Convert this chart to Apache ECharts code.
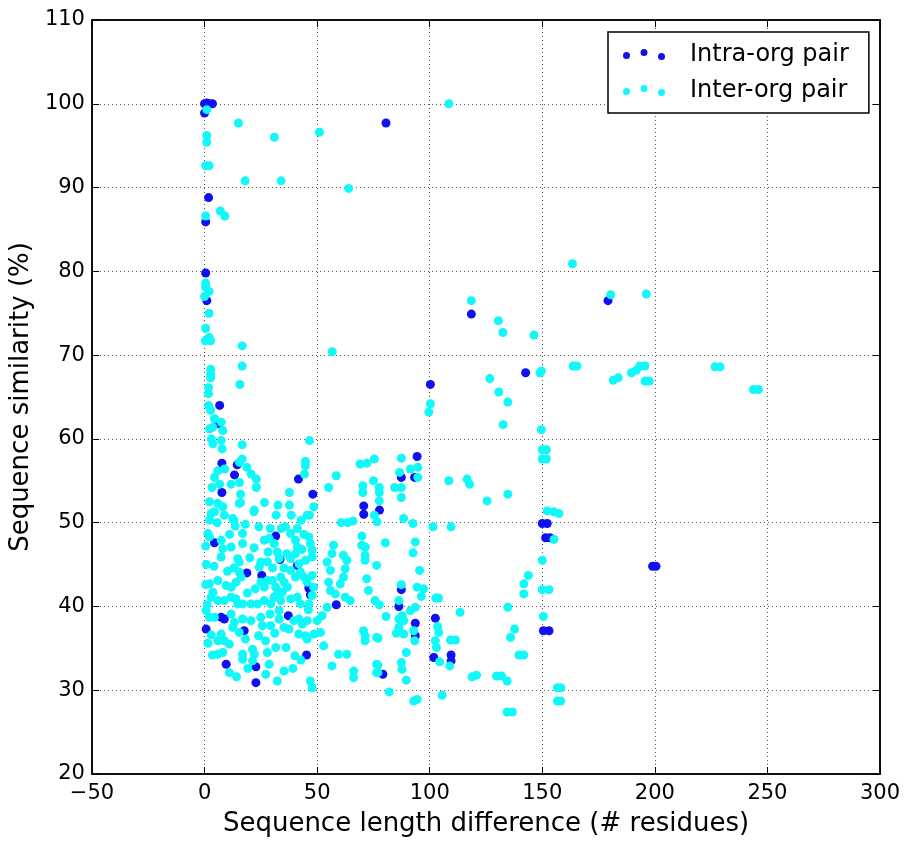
<!DOCTYPE html>
<html>
<head>
<meta charset="utf-8">
<script src="https://cdn.jsdelivr.net/npm/echarts@6/dist/echarts.min.js"></script>
<style>
html,body{margin:0;padding:0;background:#fff;}
#chart{width:905px;height:843px;}
</style>
</head>
<body>
<div id="chart"></div>
<script>
// Axis ticks
const xTicks = [-50, 0, 50, 100, 150, 200, 250, 300];
const yTicks = [20, 30, 40, 50, 60, 70, 80, 90, 100, 110];
const seriesNames = ['Intra-org pair', 'Inter-org pair'];

// Intra-organism pairs: [length difference, similarity %]
const intraPairs = [
  [0,100],[1,100.1],[2.2,100],[3.5,100],[0,98.9],[1.8,88.8],[0.5,85.9],[0.5,79.8],[1,76.5],
  [80.6,97.7],[118.5,74.9],[179.2,76.5],
  [142.6,67.9],[100.3,66.5],[94.4,57.9],[87.4,55.4],[93.3,55.4],
  [6.7,64.0],[6.2,61.8],[7.7,57.1],[14.5,56.9],[13.3,55.7],[7.7,53.6],[41.7,55.2],[48.1,53.4],
  [70.7,52.0],[70.7,51.0],[77.7,51.5],
  [4.4,47.6],[31.6,48.4],[33.5,45.6],[41.2,44.9],[18.8,44.0],[25.4,43.7],[46.3,42.2],[47.0,41.4],
  [58.5,40.2],[0.7,37.3],[7.4,38.7],[8.8,38.5],[17.6,37.1],[37.2,38.9],[22.8,32.8],[9.6,33.1],
  [22.8,30.9],[45.3,34.2],
  [87.4,42.0],[86.3,40.0],[93.6,38.0],[93.6,36.5],[79.2,31.9],[102.5,38.6],[101.8,33.9],
  [109.5,34.2],[109.5,33.5],[150,49.9],[152.2,49.9],[151.5,48.2],[153.4,48.2],[150.5,37.1],[153,37.1],
  [199,44.8],[200.5,44.8]
];

// Inter-organism pairs: [length difference, similarity %]
const interPairs = [
  [1,99.3],[15,97.7],[31,96],[51,96.6],[1,96.2],[1,95.4],[0.5,92.6],[2,92.6],[18,90.8],[34,90.8],
  [64,89.9],[7,87.2],[9,86.6],[0.5,86.6],[0.5,78.6],[0.5,78.1],[2,77.6],[0,77],[2,75.0],[0.5,73.2],[2,72.1],
  [108.5,100],[163.4,80.9],[118.5,76.5],[130.5,74.1],[132.5,72.7],[146.3,72.4],[180.4,77.2],[196.2,77.3],
  [181.5,67.0],[183.7,67.3],[189.6,67.9],[191.8,68.2],[193.3,68.7],[195.6,68.7],[195.6,66.9],[197.5,66.9],
  [163.7,68.7],[165.4,68.7],[226.7,68.6],[229,68.6],[243.8,65.9],[246,65.9],[149.6,68.1],[149.6,61.1],
  [150,58.7],[151.8,58.7],[150,57.6],[151.8,57.6],
  [149.0,67.9],[126.7,67.2],[130.7,65.6],[134.7,64.4],[132.6,61.7],[100.3,64.2],[99.6,63.2],
  [69.1,57.0],[72.1,57.1],[75.4,57.6],[87.4,57.7],[94.7,56.6],[91.4,56.4],[86.6,56.0],[94.7,55.4],
  [75.0,55.0],[70.3,54.4],[70.3,53.6],[77.6,54.2],[77.6,53.6],[84.4,54.2],[87.4,54.2],[87.4,53.0],
  [77.6,52.6],[75.4,50.9],[76.6,50.1],[88.4,50.5],[92.6,49.9],[101.5,49.5],[109.5,49.5],[108.5,55.0],
  [116.6,55.2],[117.7,54.6],[134.7,53.4],[125.5,52.6],[152.2,51.4],[155.1,51.3],[157.4,51.1],
  [0.3,71.7],[2.7,71.7],[16.7,71.1],[16.7,68.7],[56.7,70.4],[2.7,68.3],[2.7,67.7],[2.7,67.3],[15.7,66.5],
  [1.8,66.1],[1.8,65.4],[1.8,64.0],[2.7,63.4],[4.4,62.4],[7.4,62.0],[2.2,61.2],[3.7,61.4],[8.1,61.0],
  [7.4,59.8],[3.7,59.4],[3.0,60.0],[16.7,59.3],[46.6,59.8],[7.8,58.8],[16.7,57.6],[15.5,57.2],[18.8,56.6],
  [20.7,55.8],[23.0,55.2],[23.0,54.2],[11.8,54.6],[15.5,54.8],[16.0,53.4],[16.0,52.4],[4.4,55.4],[5.9,56.2],
  [8.9,56.4],[6.7,54.6],[3.3,54.2],[2.2,52.5],[5.9,52.3],[8.1,51.9],[4.4,51.3],[2.2,50.3],[5.6,50.0],
  [13.0,50.3],[26.6,52.4],[21.9,51.3],[32.6,52.1],[31.8,50.9],[37.7,52.1],[38.5,50.9],[42.9,50.3],
  [46.6,50.9],[44.8,57.3],[44.8,56.8],[44.4,55.8],[37.7,53.6],[58.5,55.6],[55.1,54.2],[60.7,50.0],
  [63.6,50.0],[65.9,50.2],
  [8.8,50.9],[2.9,51.1],[15.4,52.3],[48.5,51.9],[45.6,50.9],[22.1,51.5],[12.5,50.5],
  [1.5,48.7],[2.2,48.3],[7.4,47.9],[8.1,46.9],[11.8,47.1],[7.4,45.9],[16.9,48.7],[16.9,47.5],[14.7,45.7],
  [15.4,45.3],[26.5,47.9],[28.7,48.1],[30.9,47.5],[32.3,46.5],[33.1,45.7],[27.9,45.3],[25.0,45.3],[24.3,44.7],
  [38.2,48.7],[41.2,49.3],[40.4,47.9],[41.2,47.1],[40.4,46.3],[38.2,45.7],[41.9,45.1],[44.8,45.5],[46.3,48.3],
  [47.0,47.5],[47.8,46.7],[47.8,45.9],[15.4,44.1],[16.2,43.5],[14.0,42.9],[11.8,42.3],[9.6,42.5],[5.9,43.1],
  [2.2,42.7],[3.7,41.7],[2.9,41.1],[25.0,42.9],[26.5,42.3],[27.9,43.1],[30.1,43.1],[31.6,42.3],[32.3,41.5],
  [30.9,41.1],[33.8,43.5],[35.3,42.9],[36.8,42.3],[34.5,41.7],[38.2,44.3],[40.4,43.5],[42.6,44.1],[44.1,43.5],
  [45.6,42.9],[47.8,43.7],[48.5,42.3],[47.8,41.3],[5.9,40.7],[8.8,40.7],[11.8,41.1],[14.0,40.9],[14.7,40.3],
  [16.9,40.3],[20.6,40.3],[23.5,40.3],[26.5,40.7],[29.4,40.3],[33.8,40.7],[38.2,40.9],[41.2,41.1],[42.6,40.3],
  [46.3,40.3],[0.7,39.5],[2.2,38.7],[4.4,38.7],[11.8,39.1],[12.5,37.5],[7.4,36.7],[5.9,35.9],[8.8,35.9],
  [11.0,35.5],[15.4,36.9],[16.9,38.5],[20.6,38.3],[25.0,38.7],[25.7,37.7],[29.4,37.7],[33.1,39.5],[33.1,38.5],
  [35.3,37.5],[37.5,37.3],[39.7,38.3],[41.9,38.5],[43.4,37.9],[45.6,38.3],[41.9,36.7],[44.8,36.5],[45.6,36.1],
  [48.5,36.7],[50.0,38.3],[5.9,34.3],[8.1,34.5],[11.0,32.1],[16.9,34.3],[16.9,33.7],[21.3,34.9],[22.1,34.3],
  [21.3,33.5],[27.9,34.5],[31.6,35.1],[28.7,33.1],[27.2,31.9],[35.3,32.3],[32.3,31.1],[47.0,31.1],[47.8,30.3],
  [0.5,47.2],[0.8,45.0],[0.5,42.6],[1.2,40.2],[3.0,36.6],[1.5,35.6],[3.5,34.2],[4.2,44.8],[10.2,44.2],
  [13.0,44.6],[20.1,45.8],[22.0,47.0],[28.2,46.5],[30.2,44.6],[35.2,44.6],[36.5,46.3],[43.2,46.8],[44.1,48.6],
  [36.0,49.5],[29.2,49.3],[22.5,42.1],[19.0,41.6],[13.2,38.1],[18.2,36.1],[24.0,36.5],[27.1,35.9],[31.2,36.8],
  [36.2,35.1],[40.1,34.1],[42.8,33.6],[19.2,32.6],[14.2,31.6],[39.2,32.6],[46.1,39.6],[29.1,39.1],[11.1,48.6],
  [13.6,49.6],[18.1,49.8],[24.1,49.5],[34.1,49.3],
  [54.4,45.3],[56.6,46.3],[57.3,47.3],[55.9,44.3],[55.1,42.9],[55.9,41.9],[58.1,41.5],[60.3,42.7],[61.7,43.5],
  [62.5,44.5],[63.2,45.5],[61.7,46.1],[62.5,41.1],[64.7,40.7],[69.8,47.3],[71.3,46.1],[71.3,45.5],[72.0,43.3],
  [72.8,41.9],[76.4,44.9],[75.7,40.7],[54.4,39.9],[52.2,38.9],[51.5,36.9],[52.9,35.3],[56.6,32.9],[59.5,34.3],
  [63.2,34.3],[66.2,32.3],[66.2,31.5],[70.6,37.1],[71.3,36.5],[71.3,35.9],[76.4,36.3],[76.4,33.1],[76.4,32.1],
  [69.9,48.4],[71.4,47.1],[80.3,47.6],[93.6,47.7],[92.6,46.4],[95.5,44.3],[87.4,42.6],[94.4,42.3],[97.3,42.1],
  [96.3,41.2],[86.3,40.7],[77.6,40.2],[80.6,38.8],[87.8,38.9],[86.3,38.5],[88.5,38.3],[86.3,37.5],[91.4,39.5],
  [93.6,39.9],[92.9,37.1],[93.3,35.9],[77.0,36.2],[85.2,36.8],[88.5,36.7],[89.6,34.5],[87.4,33.3],[87.7,32.5],
  [77,33.0],[77,32.1],[89.6,31.2],[82,29.8],[92.9,28.7],[94.4,28.9],[102.7,41.0],[103.9,41.0],[113.5,39.3],
  [103.5,37.6],[104,36.9],[102.5,35.9],[103,35.1],[104.4,33.4],[109.2,36.0],[111.4,36.0],[108.9,32.9],
  [118.8,31.6],[120.8,31.8],[129.7,31.7],[131.9,31.7],[134.4,31.1],[134.7,39.9],[137.7,37.3],[135.9,36.3],
  [139.6,34.2],[141.8,34.2],[141.8,42.7],[141.8,41.5],[143.8,43.7],[105.5,29.4],[134.4,27.4],[136.7,27.4],
  [155.2,48.0],[150,45.5],[150,42.0],[153,42.0],[150.5,38.8],[156.7,30.3],[158.2,30.3],[156.7,28.7],[158.2,28.7]
];

const FONT = 'DejaVu Sans';
const fmt = v => (v < 0 ? '\u2212' + Math.abs(v) : String(v));
const dotsIcon = 'path://M0,6.5a3.5,3.5 0 1,0 7,0a3.5,3.5 0 1,0 -7,0Z M17.5,3.5a3.5,3.5 0 1,0 7,0a3.5,3.5 0 1,0 -7,0Z M35,7.5a3.5,3.5 0 1,0 7,0a3.5,3.5 0 1,0 -7,0Z';

const gridLine = { show: true, lineStyle: { color: '#555', width: 1, type: [1, 3] } };
const tickStyle = { show: true, inside: true, length: 7, lineStyle: { color: '#000', width: 1 } };

const chart = echarts.init(document.getElementById('chart'), null, { renderer: 'canvas' });
chart.setOption({
  animation: false,
  backgroundColor: '#fff',
  textStyle: { fontFamily: FONT },
  grid: { left: 91, right: 25, top: 20, bottom: 69, show: true, borderColor: '#000', borderWidth: 1.5, containLabel: false },
  legend: {
    left: 608, top: 32,
    orient: 'vertical',
    backgroundColor: '#fff',
    borderColor: '#000', borderWidth: 1.5, borderRadius: 0,
    padding: [10, 20, 10, 15],
    itemWidth: 42, itemHeight: 11, itemGap: 11,
    icon: dotsIcon,
    textStyle: { fontFamily: FONT, fontSize: 24, color: '#000', lineHeight: 25, padding: [0, 0, 0, 20] },
    data: seriesNames
  },
  xAxis: [{
    type: 'value', min: xTicks[0], max: xTicks[xTicks.length - 1], interval: 50,
    name: 'Sequence length difference (# residues)', nameLocation: 'middle', nameGap: 37,
    nameTextStyle: { fontFamily: FONT, fontSize: 26, color: '#000' },
    axisLine: { show: true, onZero: false, lineStyle: { color: '#000', width: 1.5 } },
    axisTick: tickStyle,
    axisLabel: { formatter: fmt, fontFamily: FONT, fontSize: 21, color: '#000', margin: 9 },
    splitLine: gridLine
  }, {
    type: 'value', position: 'top', min: xTicks[0], max: xTicks[xTicks.length - 1], interval: 50,
    axisLine: { show: true, onZero: false, lineStyle: { color: '#000', width: 1.5 } },
    axisTick: tickStyle, axisLabel: { show: false }, splitLine: { show: false }
  }],
  yAxis: [{
    type: 'value', min: yTicks[0], max: yTicks[yTicks.length - 1], interval: 10,
    name: 'Sequence similarity (%)', nameLocation: 'middle', nameGap: 53,
    nameTextStyle: { fontFamily: FONT, fontSize: 26, color: '#000' },
    axisLine: { show: true, onZero: false, lineStyle: { color: '#000', width: 1.5 } },
    axisTick: tickStyle,
    axisLabel: { formatter: fmt, fontFamily: FONT, fontSize: 21, color: '#000', margin: 7 },
    splitLine: gridLine
  }, {
    type: 'value', position: 'right', min: yTicks[0], max: yTicks[yTicks.length - 1], interval: 10,
    axisLine: { show: true, onZero: false, lineStyle: { color: '#000', width: 1.5 } },
    axisTick: tickStyle, axisLabel: { show: false }, splitLine: { show: false }
  }],
  series: [{
    name: seriesNames[0], type: 'scatter', xAxisIndex: 0, yAxisIndex: 0,
    symbol: 'circle', symbolSize: 9,
    itemStyle: { color: '#1010f0', opacity: 1 },
    data: intraPairs
  }, {
    name: seriesNames[1], type: 'scatter', xAxisIndex: 0, yAxisIndex: 0,
    symbol: 'circle', symbolSize: 9,
    itemStyle: { color: '#10f8f8', opacity: 1 },
    data: interPairs
  }]
});
</script>
</body>
</html>
